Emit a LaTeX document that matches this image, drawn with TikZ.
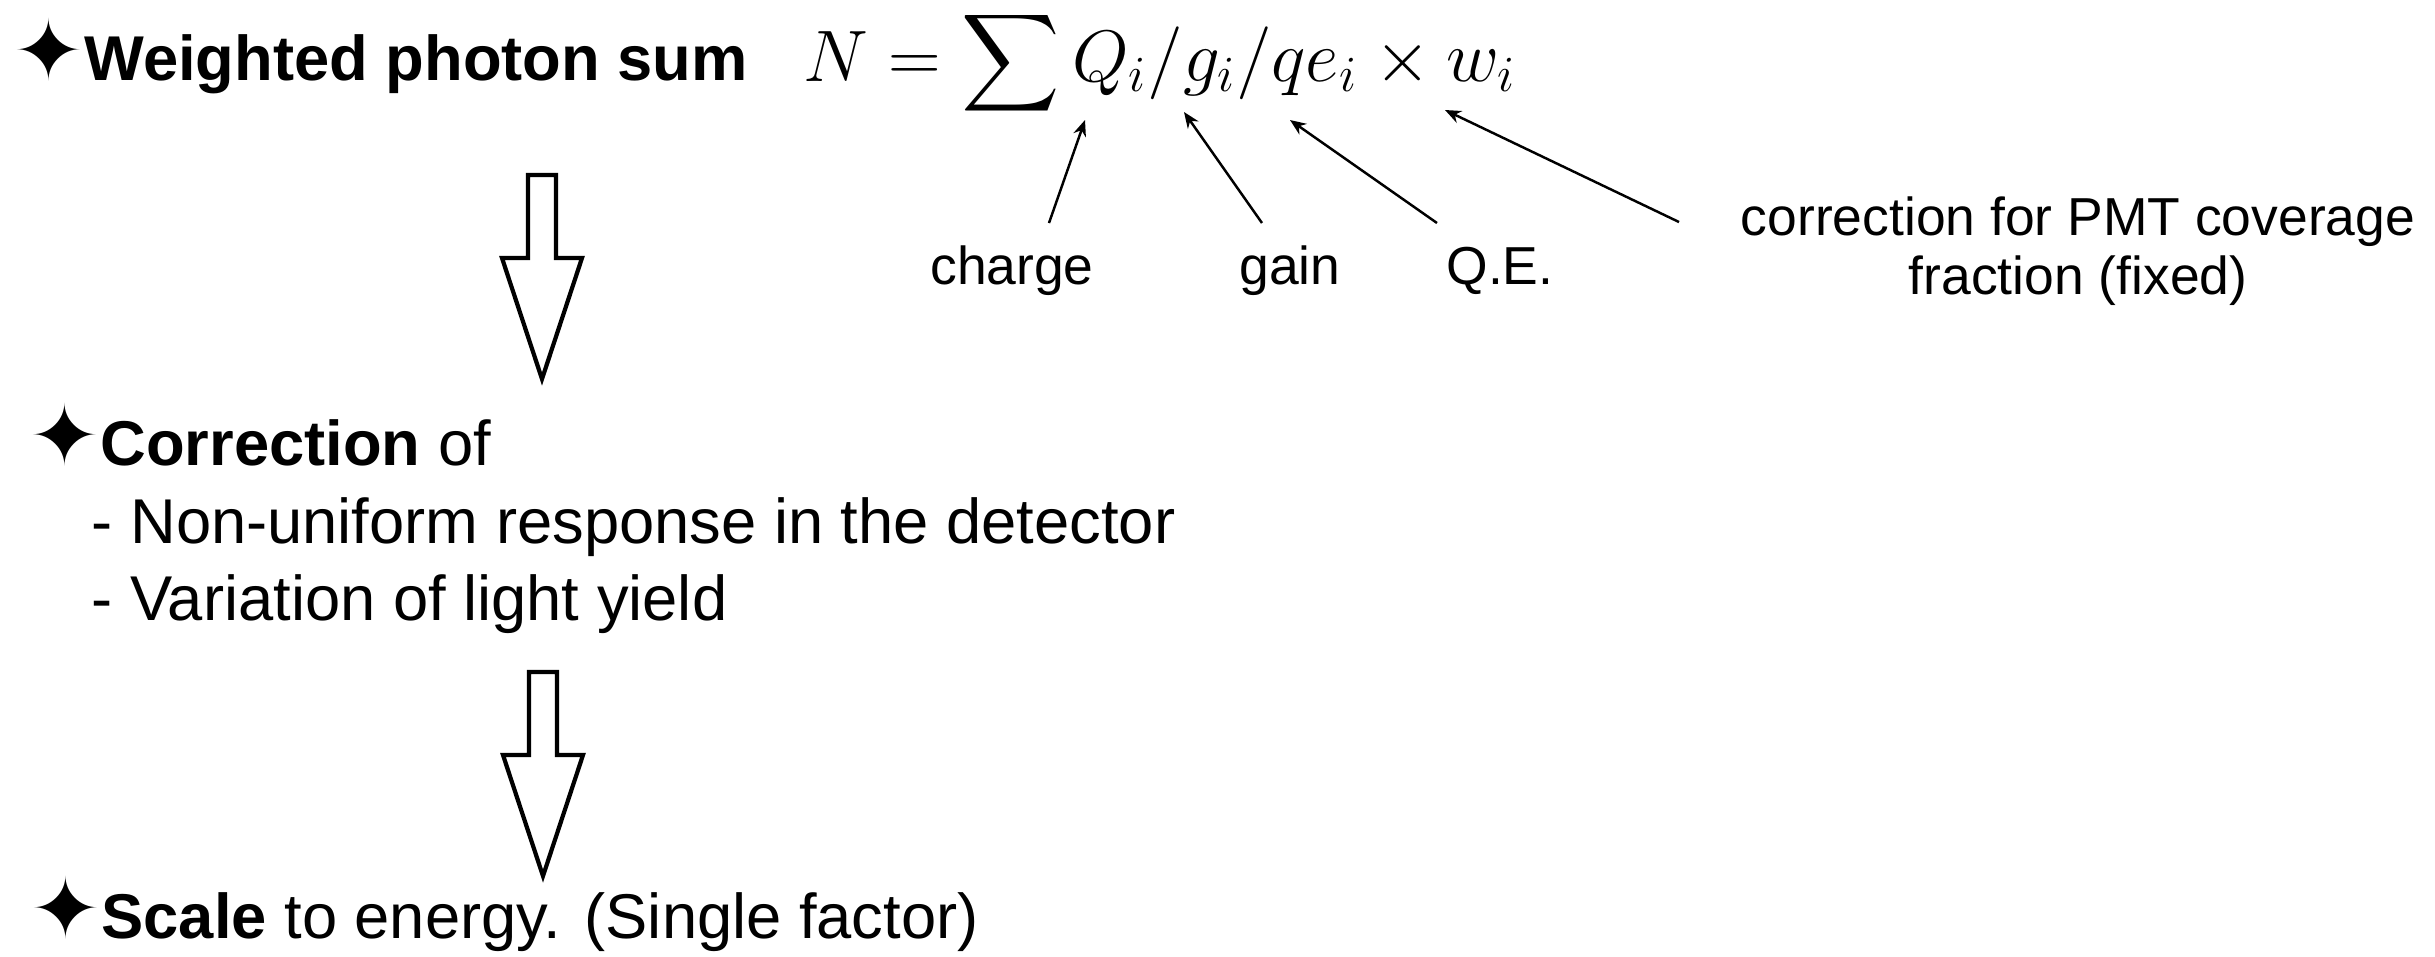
\documentclass[tikz,border=0pt]{standalone}
\usepackage{exscale}
\DeclareFontShape{OMX}{cmex}{m}{n}{<-7.5> cmex7 <7.5-8.5> cmex8 <8.5-9.5> cmex9 <9.5-> cmex10}{}
\usepackage[no-math]{fontspec}
\setmainfont{Liberation Sans}
\newfontfamily\starfont{DejaVu Sans}
\usetikzlibrary{arrows.meta,calc}

\newcommand{\bullstar}{{\starfont\fontsize{24}{24}\selectfont ✦}}

\begin{document}
\begin{tikzpicture}[
    x=0.01cm, y=-0.01cm,
    line/.style={anchor=base west, inner sep=0pt, font=\fontsize{18}{22}\selectfont},
    note/.style={anchor=base, inner sep=0pt, align=center, font=\fontsize{15.2}{16.5}\selectfont},
    pointer/.style={-{Stealth[length=1.6mm,width=1.3mm]}, line width=0.7pt},
    hollow/.style={draw, line width=1.2pt, line join=miter},
    downarrow/.pic={\draw[hollow] (-14,0) -- (14,0) -- (14,83) -- (40,83) -- (0,204) -- (-40,83) -- (-14,83) -- cycle;}
]
\useasboundingbox (0,0) rectangle (2435,956);

% the three steps
\node[line] (sum) at (13,80) {\bullstar\textbf{Weighted photon sum}};
\node[line, font=\fontsize{19.4}{23}\selectfont] (formula) at (803,81) {$\displaystyle N=\sum Q_i/g_i/qe_i\times w_i$};
\node[line] (corr) at (29,465) {\bullstar\textbf{Correction} of};
\node[line] (nonuni) at (91,543) {- Non-uniform response in the detector};
\node[line] (yield) at (91,620) {- Variation of light yield};
\node[line] (scale) at (30,938) {\bullstar\textbf{Scale} to energy. (Single factor)};

\pic at (542,175) {downarrow};
\pic at (543,672) {downarrow};

% what each factor is
\node[note] (charge) at (1012,284) {charge};
\node[note] (gain) at (1290,284) {gain};
\node[note] (qe) at (1500,284) {Q.E.};
\node[note] (cover) at (2078,294) {correction for PMT coverage\\fraction (fixed)};

\coordinate (atQ) at (1085,120);
\coordinate (atg) at (1184,112);
\coordinate (atqe) at (1290,120);
\coordinate (atw) at (1445,110);

\draw[pointer] ($(charge.base)+(37,-61)$) -- (atQ);
\draw[pointer] ($(gain.base)+(-28,-61)$) -- (atg);
\draw[pointer] ($(qe.base)+(-63,-61)$) -- (atqe);
\draw[pointer] ($(cover.base)+(-399,-72)$) -- (atw);
\end{tikzpicture}
\end{document}
